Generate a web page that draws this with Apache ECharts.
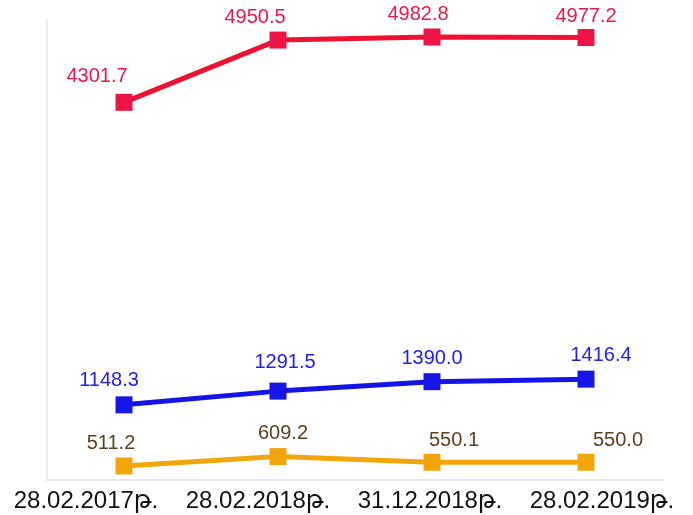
<!DOCTYPE html>
<html>
<head>
<meta charset="utf-8">
<script src="https://cdn.jsdelivr.net/npm/echarts@6/dist/echarts.min.js"></script>
<style>
  html, body { margin: 0; padding: 0; background: #fff; }
  #chart { width: 693px; height: 515px; }
</style>
</head>
<body>
<div id="chart"></div>
<script>
const categories = ['28.02.2017թ.', '28.02.2018թ.', '31.12.2018թ.', '28.02.2019թ.']
const redValues = [4301.7, 4950.5, 4982.8, 4977.2]
const blueValues = [1148.3, 1291.5, 1390.0, 1416.4]
const orangeValues = [511.2, 609.2, 550.1, 550.0]

const font = '"Liberation Sans", Arial, "DejaVu Sans", sans-serif'

// label nudges per point
function withLabels (values, color, shifts) {
  return values.map((v, i) => ({
    value: v,
    label: { offset: shifts[i] }
  }))
}

function lineSeries (name, values, lineColor, markColor, labelColor, shifts) {
  return {
    name: name,
    type: 'line',
    xAxisIndex: 0,
    yAxisIndex: 0,
    data: withLabels(values, labelColor, shifts),
    symbol: 'rect',
    symbolSize: 17,
    lineStyle: { color: lineColor, width: 5 },
    itemStyle: { color: markColor },
    label: {
      show: true,
      position: 'top',
      distance: 5,
      color: labelColor,
      fontSize: 20,
      fontFamily: font,
      formatter: p => p.value.toFixed(1)
    },
    animation: false
  }
}

const chart = echarts.init(document.getElementById('chart'))
chart.setOption({
  backgroundColor: '#fff',
  grid: [
    { left: 47, right: 30, top: 20, bottom: 35 },
    { left: 0, right: 5, top: 20, bottom: 35 }
  ],
  xAxis: [
    {
      gridIndex: 0,
      type: 'category',
      data: categories,
      axisLine: { lineStyle: { color: '#e6e6e6', width: 2 } },
      axisTick: { show: false },
      axisLabel: { show: false }
    },
    {
      gridIndex: 1,
      type: 'category',
      data: categories,
      axisLine: { show: false },
      axisTick: { show: false },
      axisLabel: {
        interval: 0,
        margin: 9,
        color: '#111',
        fontSize: 24,
        fontFamily: font
      }
    }
  ],
  yAxis: [
    {
      gridIndex: 0,
      type: 'value',
      min: 365,
      max: 5160,
      axisLine: { show: true, lineStyle: { color: '#ececec', width: 2 } },
      axisTick: { show: false },
      axisLabel: { show: false },
      splitLine: { show: false }
    },
    {
      gridIndex: 1,
      type: 'value',
      show: false
    }
  ],
  series: [
    lineSeries('red', redValues, '#EE1133', '#EE1445', '#E8194B',
      [[-27, -2], [-23, 1], [-14, 1], [0, 2]]),
    lineSeries('blue', blueValues, '#1414E6', '#1616E8', '#2222E0',
      [[-15, -1], [7, -5], [0, 0], [15, 0]]),
    lineSeries('orange', orangeValues, '#F2A60C', '#F2A60C', '#5A4020',
      [[-13, 1], [5, 0], [22, 2], [32, 2]])
  ]
})
</script>
</body>
</html>
